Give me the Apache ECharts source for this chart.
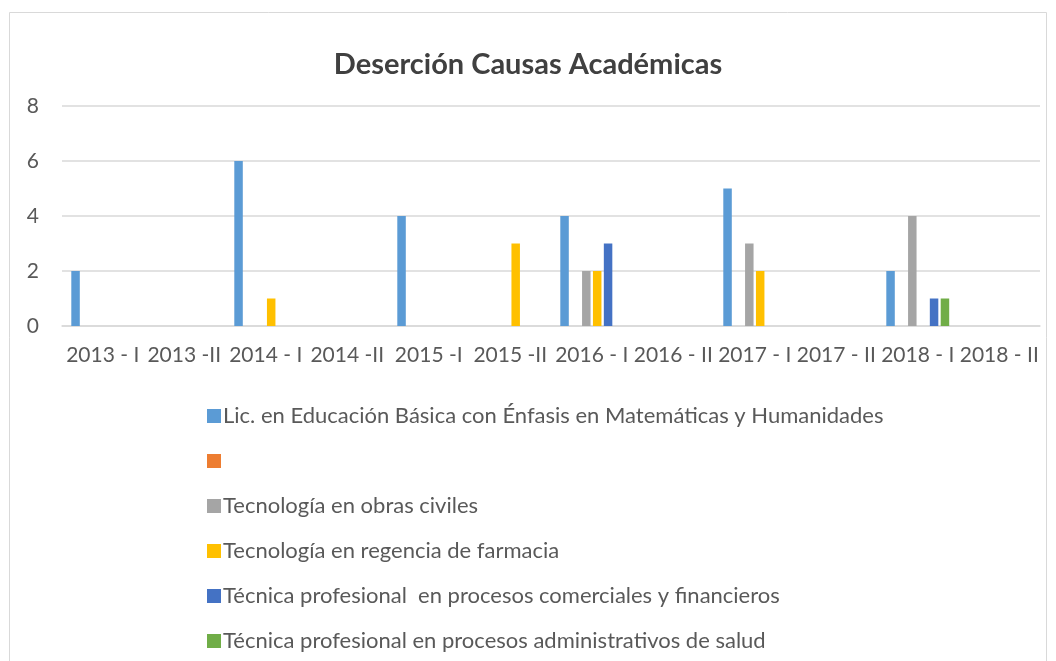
<!DOCTYPE html>
<html>
<head>
<meta charset="utf-8">
<script src="https://cdn.jsdelivr.net/npm/echarts@6/dist/echarts.min.js"></script>
<style>
  html, body { margin: 0; padding: 0; background: #fff; }
  #chart { width: 1056px; height: 661px; }
</style>
</head>
<body>
<div id="chart"></div>
<script>
// Periods (semesters) on the category axis
const periods = ['2013 - I', '2013 -II', '2014 - I', '2014 -II', '2015 -I', '2015 -II',
                 '2016 - I', '2016 - II', '2017 - I', '2017 - II', '2018 - I', '2018 - II'];

// Programme names (the second one has no label)
const programNames = [
  'Lic. en Educación Básica con Énfasis en Matemáticas y Humanidades',
  ' ',
  'Tecnología en obras civiles',
  'Tecnología en regencia de farmacia',
  'Técnica profesional  en procesos comerciales y financieros',
  'Técnica profesional en procesos administrativos de salud'
];

// Dropouts for academic reasons, per programme and period
const licEducacion      = [2, 0, 6, 0, 4, 0, 4, 0, 5, 0, 2, 0];
const sinNombre         = [0, 0, 0, 0, 0, 0, 0, 0, 0, 0, 0, 0];
const obrasCiviles      = [0, 0, 0, 0, 0, 0, 2, 0, 3, 0, 4, 0];
const regenciaFarmacia  = [0, 0, 1, 0, 0, 3, 2, 0, 2, 0, 0, 0];
const procComerciales   = [0, 0, 0, 0, 0, 0, 3, 0, 0, 0, 1, 0];
const procSalud         = [0, 0, 0, 0, 0, 0, 0, 0, 0, 0, 1, 0];

const yTicks = [0, 2, 4, 6, 8];

const seriesValues = [licEducacion, sinNombre, obrasCiviles, regenciaFarmacia, procComerciales, procSalud];
const palette = ['#5B9BD5', '#ED7D31', '#A5A5A5', '#FFC000', '#4472C4', '#70AD47'];

const FONT = 'Lato';
const chart = echarts.init(document.getElementById('chart'), null, { renderer: 'canvas' });

chart.setOption({
  animation: false,
  backgroundColor: '#ffffff',
  color: palette,
  graphic: [{
    type: 'rect',
    shape: { x: 9.5, y: 12.5, width: 1037, height: 700 },
    style: { fill: 'none', stroke: '#D9D9D9', lineWidth: 1 },
    silent: true,
    z: -10
  }],
  title: {
    text: 'Deserción Causas Académicas',
    left: 'center',
    top: 43,
    textStyle: { fontFamily: FONT, fontSize: 29, fontWeight: 'bold', color: '#404040', lineHeight: 34 }
  },
  grid: { left: 62, right: 16, top: 106, bottom: 335, containLabel: false },
  xAxis: {
    type: 'category',
    data: periods,
    axisLine: { lineStyle: { color: '#D9D9D9', width: 1.5 } },
    axisTick: { show: false },
    axisLabel: { interval: 0, margin: 19, fontFamily: FONT, fontSize: 21, color: '#595959' },
    splitLine: { show: false }
  },
  yAxis: {
    type: 'value',
    min: yTicks[0],
    max: yTicks[yTicks.length - 1],
    interval: 2,
    axisLine: { show: false },
    axisTick: { show: false },
    axisLabel: { margin: 23, fontFamily: FONT, fontSize: 21, color: '#595959' },
    splitLine: { lineStyle: { color: '#D9D9D9', width: 1.5 } }
  },
  legend: {
    orient: 'vertical',
    left: 202,
    top: 399,
    itemWidth: 14,
    itemHeight: 14,
    itemGap: 21,
    icon: 'rect',
    data: programNames,
    textStyle: { fontFamily: FONT, fontSize: 22, color: '#595959', lineHeight: 24, padding: [0, 0, 0, -3] }
  },
  series: programNames.map((name, i) => ({
    name: name,
    type: 'bar',
    data: seriesValues[i],
    barWidth: 8.5,
    barGap: '28%',
    itemStyle: { borderWidth: 0 }
  }))
});
</script>
</body>
</html>
